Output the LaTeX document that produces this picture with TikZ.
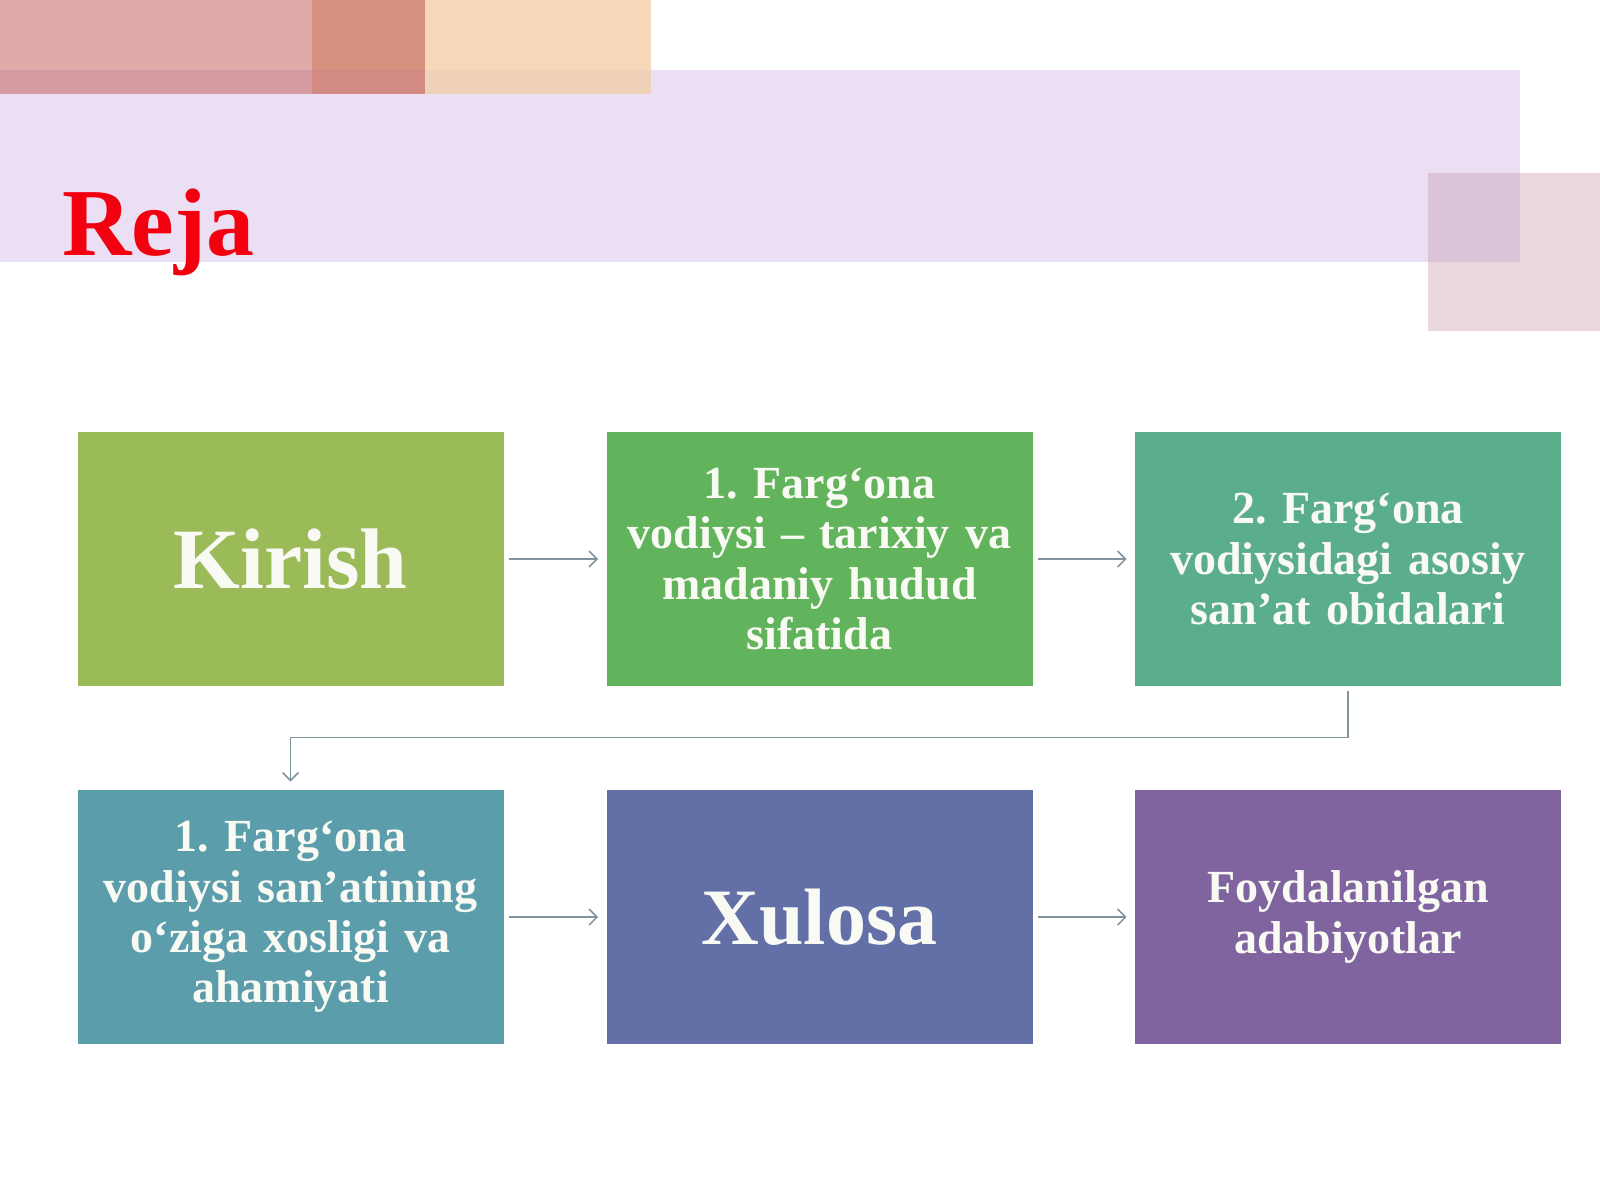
\documentclass[tikz,border=0pt]{standalone}
\usepackage{fontspec}
\setmainfont{Liberation Serif}
\usetikzlibrary{arrows.meta}
\frenchspacing
\definecolor{bandc}{HTML}{EADFF3}
\definecolor{pka}{HTML}{DFAAA8}
\definecolor{pkab}{HTML}{D59AA2}
\definecolor{pkb}{HTML}{D9917F}
\definecolor{pkbb}{HTML}{D28A83}
\definecolor{pkc}{HTML}{F8D6B9}
\definecolor{pkcb}{HTML}{EFD0B9}
\definecolor{sqc}{HTML}{EBD7DF}
\definecolor{sqo}{HTML}{DCC4D8}
\definecolor{cA}{HTML}{9BBB59}
\definecolor{cB}{HTML}{62B45C}
\definecolor{cC}{HTML}{5BAE8C}
\definecolor{cD}{HTML}{5C9DAB}
\definecolor{cE}{HTML}{6370A8}
\definecolor{cF}{HTML}{7F64A0}
\definecolor{linec}{HTML}{7F959B}
\definecolor{txtc}{HTML}{FAFAF4}
\definecolor{rejac}{HTML}{F20010}
\begin{document}
\frenchspacing
\begin{tikzpicture}[x=0.5pt,y=-0.5pt,
  box/.style={rectangle, minimum width=213pt, minimum height=127pt, inner sep=0pt,
    text=txtc, align=center, text width=205pt,
    font=\bfseries\fontsize{23}{25.2}\selectfont},
  bigbox/.style={box, font=\bfseries\fontsize{43}{46}\selectfont},
  conn/.style={draw=linec, line width=0.75pt, -{Straight Barb[length=4pt,width=8pt]},
    shorten <=2.5pt, shorten >=4pt}]
\useasboundingbox (0,0) rectangle (1600,1200);
\fill[white] (0,0) rectangle (1600,1200);
% decorative background
\fill[bandc] (0,70) rectangle (1520,262);
\fill[pka] (0,0) rectangle (312,70);
\fill[pkab] (0,70) rectangle (312,94);
\fill[pkb] (312,0) rectangle (425,70);
\fill[pkbb] (312,70) rectangle (425,94);
\fill[pkc] (425,0) rectangle (651,70);
\fill[pkcb] (425,70) rectangle (651,94);
\fill[sqc] (1428,173) rectangle (1600,331);
\fill[sqo] (1428,173) rectangle (1520,262);
% title
\node[anchor=base west, inner sep=0pt, text=rejac, font=\bfseries\fontsize{48}{50}\selectfont] (title) at (62,255) {Reja};
% boxes
\node[bigbox, fill=cA] (k) at (290.5,559) {Kirish};
\node[box, fill=cB] (b2) at (819.5,559) {1. Farg‘ona\\vodiysi – tarixiy va\\madaniy hudud\\sifatida};
\node[box, fill=cC] (b3) at (1348,559) {2. Farg‘ona\\vodiysidagi asosiy\\san’at obidalari};
\node[box, fill=cD] (b4) at (290.5,917) {1. Farg‘ona\\vodiysi san’atining\\o‘ziga xosligi va\\ahamiyati};
\node[bigbox, fill=cE, font=\bfseries\fontsize{40}{44}\selectfont] (x) at (819.5,917) {Xulosa};
\node[box, fill=cF] (f) at (1348,917) {Foydalanilgan\\adabiyotlar};
% connectors
\draw[conn] (k) -- (b2);
\draw[conn] (b2) -- (b3);
\draw[conn] (b3.south) -- ++(0,51) -| (b4.north);
\draw[conn] (b4) -- (x);
\draw[conn] (x) -- (f);
\end{tikzpicture}
\end{document}
